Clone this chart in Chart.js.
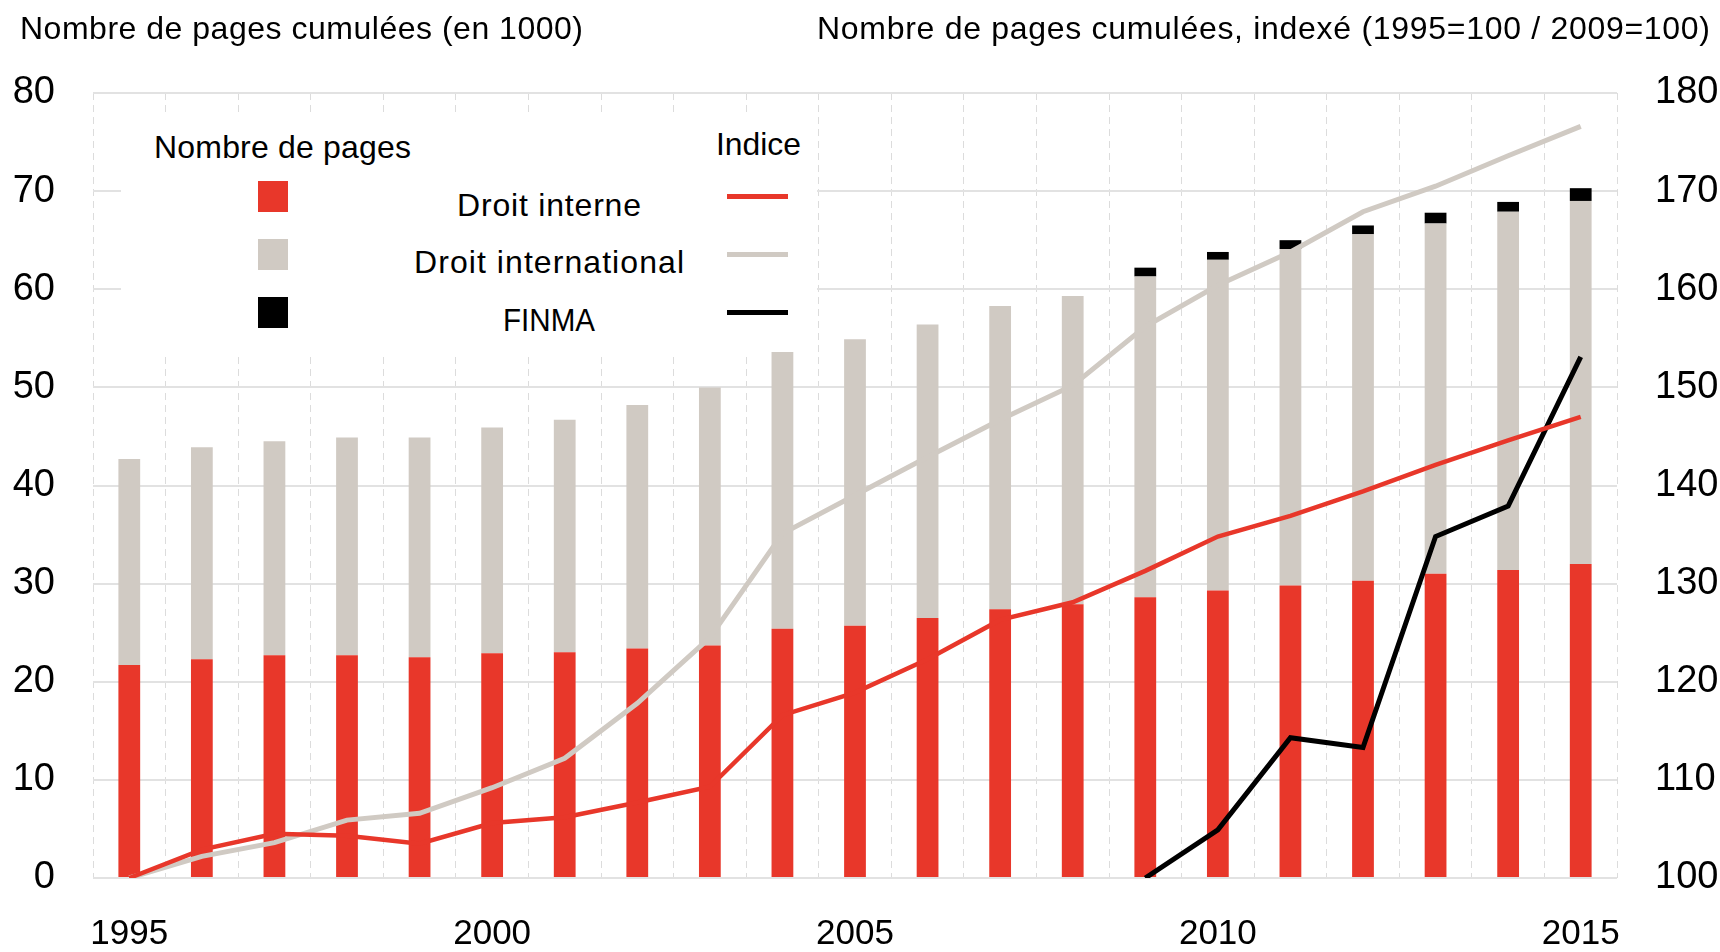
<!DOCTYPE html>
<html>
<head>
<meta charset="utf-8">
<script src="https://cdn.jsdelivr.net/npm/chart.js@4.4.1/dist/chart.umd.min.js"></script>
<style>
  html, body { margin: 0; padding: 0; background: #fff; }
  body { width: 1720px; height: 952px; position: relative; overflow: hidden;
         font-family: 'Liberation Sans', Arial, sans-serif; color: #000; }
  #wrap { position: absolute; left: 0; top: 0; width: 1720px; height: 952px; }
  .t { position: absolute; white-space: nowrap; line-height: 1; font-size: 32px; transform: translateY(-50%); }
  #legend { position: absolute; left: 121px; top: 112px; width: 696px; height: 240px; background: #fff; }
  .sw { position: absolute; width: 30px; height: 31px; }
  .ln { position: absolute; width: 61px; height: 5px; }
</style>
</head>
<body>
<div id="wrap"><canvas id="c" width="1720" height="952"></canvas></div>

<div class="t" data-x0="20" data-x1="583" data-cy="28">Nombre de pages cumulées (en 1000)</div>
<div class="t" data-x0="817" data-x1="1710" data-cy="28">Nombre de pages cumulées, indexé (1995=100 / 2009=100)</div>

<div id="legend"></div>
<div class="t" data-x0="154" data-x1="411" data-cy="147">Nombre de pages</div>
<div class="t" data-x0="716" data-x1="801" data-cy="143.5">Indice</div>
<div class="t" data-x0="457" data-x1="641" data-cy="204.5">Droit interne</div>
<div class="t" data-x0="414" data-x1="684" data-cy="261.5">Droit international</div>
<div class="t" data-x0="503" data-x1="595" data-cy="319.5">FINMA</div>
<div class="sw" style="left:258px; top:181px; background:#E8372A;"></div>
<div class="sw" style="left:258px; top:239px; background:#D0CAC3;"></div>
<div class="sw" style="left:258px; top:297px; background:#000;"></div>
<div class="ln" style="left:727px; top:194px; background:#E8372A;"></div>
<div class="ln" style="left:727px; top:252px; background:#D0CAC3;"></div>
<div class="ln" style="left:727px; top:310px; background:#000;"></div>

<script>
const years = ['1995','1996','1997','1998','1999','2000','2001','2002','2003','2004','2005',
               '2006','2007','2008','2009','2010','2011','2012','2013','2014','2015'];

// Nombre de pages cumulées (en 1000)
const pagesInterne = [21.7,22.3,22.7,22.7,22.5,22.9,23.0,23.4,23.7,25.4,25.7,
                      26.5,27.4,27.9,28.6,29.3,29.8,30.3,31.0,31.4,32.0];
const pagesInternational = [21.0,21.6,21.8,22.2,22.4,23.0,23.7,24.8,26.3,28.2,29.2,
                            29.9,30.9,31.4,32.7,33.7,34.3,35.3,35.7,36.5,37.0];
const pagesFinma = [null,null,null,null,null,null,null,null,null,null,null,
                    null,null,null,0.9,0.8,0.9,0.9,1.1,1.0,1.3];

// Indices (1995=100 / 2009=100)
const indexInterne = [100,102.9,104.5,104.3,103.5,105.6,106.2,107.7,109.3,116.6,118.9,
                      122.3,126.3,128.1,131.3,134.8,136.9,139.4,142.1,144.6,147.0];
const indexInternational = [100,102.2,103.6,105.9,106.6,109.2,112.2,117.8,124.5,135.1,139.0,
                            142.9,146.7,150.2,156.2,160.4,163.8,167.9,170.5,173.6,176.6];
const indexFinma = [null,null,null,null,null,null,null,null,null,null,null,
                    null,null,null,100,104.9,114.3,113.3,134.8,137.9,153.1];

const leftTicks = [0,10,20,30,40,50,60,70,80];
const rightTicks = [100,110,120,130,140,150,160,170,180];
const xTickYears = ['1995','2000','2005','2010','2015'];

const RED = '#E8372A', GREY = '#D0CAC3', BLACK = '#000000';
const FONT = "'Liberation Sans', Arial, sans-serif";

// fit HTML texts to the reference extents
document.querySelectorAll('.t').forEach(el => {
  const x0 = +el.dataset.x0, x1 = +el.dataset.x1, cy = +el.dataset.cy;
  const n = el.textContent.length;
  const w = el.getBoundingClientRect().width;
  const target = x1 - x0;
  el.style.left = x0 + 'px';
  el.style.top = cy + 'px';
  if (target >= w) {
    el.style.letterSpacing = ((target - w) / Math.max(1, n - 1)) + 'px';
  } else {
    el.style.transformOrigin = 'left center';
    el.style.transform = 'translateY(-50%) scaleX(' + (target / w) + ')';
  }
});

new Chart(document.getElementById('c'), {
  type: 'bar',
  data: {
    labels: years,
    datasets: [
      { type: 'line', label: 'Indice Droit interne', data: indexInterne, yAxisID: 'y2',
        borderColor: RED, borderWidth: 4.5, pointRadius: 0, tension: 0, order: 0, stack: 'l1' },
      { type: 'line', label: 'Indice Droit international', data: indexInternational, yAxisID: 'y2',
        borderColor: GREY, borderWidth: 5, pointRadius: 0, tension: 0, order: 0, stack: 'l2' },
      { type: 'line', label: 'Indice FINMA', data: indexFinma, yAxisID: 'y2',
        borderColor: BLACK, borderWidth: 5, pointRadius: 0, tension: 0, order: 0, stack: 'l3' },
      { label: 'Droit interne', data: pagesInterne, backgroundColor: RED, stack: 'p', yAxisID: 'y', order: 1,
        categoryPercentage: 1, barPercentage: 0.3 },
      { label: 'Droit international', data: pagesInternational, backgroundColor: GREY, stack: 'p', yAxisID: 'y', order: 1,
        categoryPercentage: 1, barPercentage: 0.3 },
      { label: 'FINMA', data: pagesFinma, backgroundColor: BLACK, stack: 'p', yAxisID: 'y', order: 1,
        categoryPercentage: 1, barPercentage: 0.3 }
    ]
  },
  options: {
    responsive: false,
    animation: false,
    layout: { padding: { top: 93, left: 0, right: 0, bottom: 0 } },
    plugins: { legend: { display: false }, tooltip: { enabled: false }, title: { display: false } },
    scales: {
      x: {
        stacked: true,
        offset: true,
        grid: { offset: true, color: '#dcdcdc', lineWidth: 1, drawTicks: false },
        border: { display: false, dash: [7, 5] },
        ticks: {
          autoSkip: false, maxRotation: 0, minRotation: 0, padding: 35,
          color: '#000', font: { family: FONT, size: 35 },
          callback: function(v) { const lab = this.getLabelForValue(v); return xTickYears.includes(lab) ? lab : ''; }
        },
        afterFit: s => { s.height = 74; }
      },
      y: {
        stacked: true, position: 'left', min: leftTicks[0], max: leftTicks[leftTicks.length - 1],
        grid: { color: '#e2e2e2', lineWidth: 2, drawTicks: false },
        border: { display: false },
        afterBuildTicks: s => { s.ticks = leftTicks.map(v => ({ value: v })); },
        ticks: { padding: 38, color: '#000', font: { family: FONT, size: 38 } },
        afterFit: s => { s.width = 93; }
      },
      y2: {
        stacked: false, position: 'right', min: rightTicks[0], max: rightTicks[rightTicks.length - 1],
        grid: { drawOnChartArea: false, drawTicks: false },
        border: { display: false },
        afterBuildTicks: s => { s.ticks = rightTicks.map(v => ({ value: v })); },
        ticks: { padding: 38, color: '#000', font: { family: FONT, size: 38 } },
        afterFit: s => { s.width = 103; }
      }
    }
  }
});
</script>
</body>
</html>
